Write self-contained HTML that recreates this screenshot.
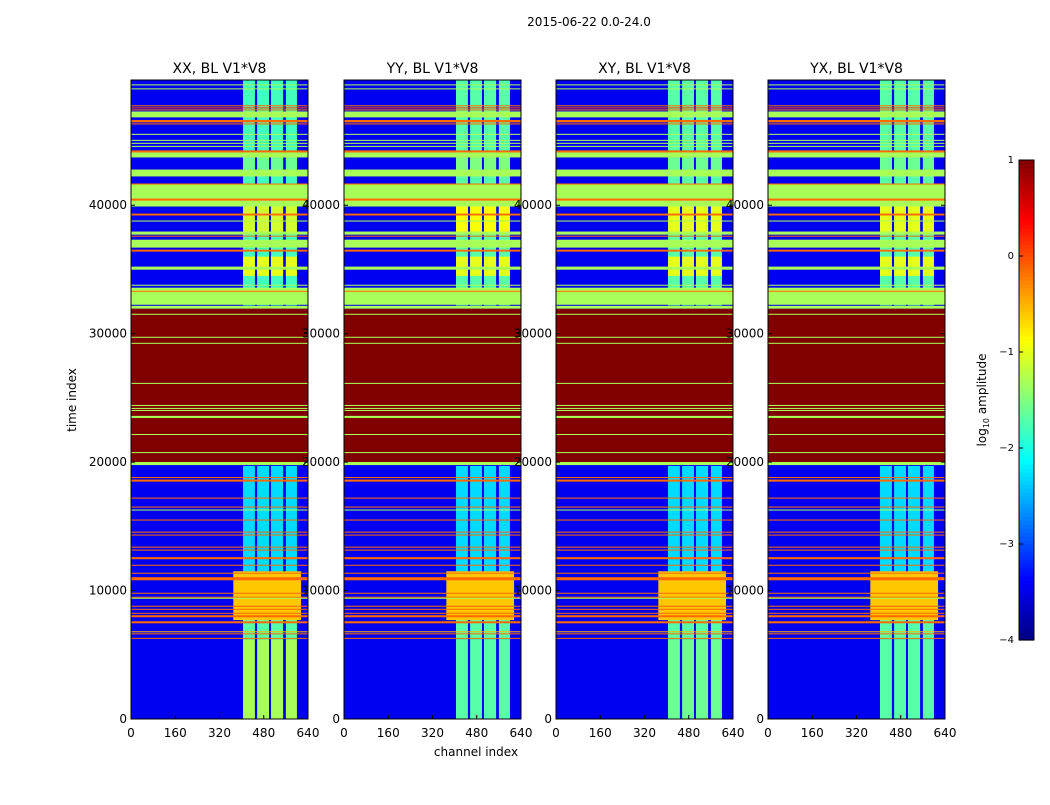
<!DOCTYPE html>
<html><head><meta charset="utf-8">
<style>
body{margin:0;background:#fff;width:1050px;height:800px;overflow:hidden;font-family:"Liberation Sans","DejaVu Sans",sans-serif}
svg text{font-family:"DejaVu Sans","Liberation Sans",sans-serif}
</style></head>
<body>
<svg id="fig" width="1050" height="800" xmlns="http://www.w3.org/2000/svg">
<text x="589" y="26" font-size="12" text-anchor="middle">2015-06-22 0.0-24.0</text>
<text x="76" y="400" font-size="12" text-anchor="middle" transform="rotate(-90 76 400)">time index</text>
<text x="476" y="756" font-size="12" text-anchor="middle">channel index</text>
<g id="panels"></g>
<g id="cbar"></g>
</svg>
<script>
const panelTitles = ["XX, BL V1*V8","YY, BL V1*V8","XY, BL V1*V8","YX, BL V1*V8"];
const panelX = [131,344,556,768];
const tMax = 49750, chMax = 640;
const xTicks = [0,160,320,480,640];
const yTicks = [0,10000,20000,30000,40000];
const bgLevel = -3.45;
// RFI channel columns
const rfiCh0 = [405,456,506,560];
const rfiCh1 = [448,499,550,600];
// RFI time zones and per-panel levels
const rfiT0 = [0,6200,11500,32200,34500,37900,42800];
const rfiT1 = [6200,11500,19700,49750,36000,40000,44000];
const rfiLevels = [
 [-1.3,-1.7,-1.6,-1.7],
 [-1.7,-1.7,-1.7,-1.7],
 [-2.3,-2.3,-2.3,-2.3],
 [-1.8,-1.7,-1.7,-1.7],
 [-1.0,-1.0,-1.0,-1.0],
 [-1.1,-0.9,-1.0,-1.0],
 [-1.6,-1.5,-1.6,-1.6]
];
// wide strong RFI blob
const blobT0 = [7700], blobT1 = [11500], blobCh0 = [370], blobCh1 = [615], blobLevel = [-0.6];
// full-width flagged bands
const bandT0 = [49330,49020,47700,47540,47380,46840,46450,46290,45480,45010,44780,44540,44110,43720,42240,39900,41610,40360,39200,38730,37710,37560,36700,36390,34980,33730,32250,33260,31940,20010,31470,29680,29210,26090,24370,24140,23980,23440,22110,20700,19770,18760,18480,17160,16460,16230,15450,14510,14280,13340,13110,12440,11930,11310,10800,9750,9440,9360,8740,8500,8190,7920,7450,6750,6590,6240];
const bandT1 = [49410,49100,47780,47620,47460,47300,46640,46370,45560,45090,44860,44620,44270,44110,42780,41690,41690,40520,39350,38810,37950,37630,37320,36540,35220,33810,33580,33340,32170,31940,31550,29760,29290,26170,24450,24220,24060,23600,22190,20780,20010,18840,18640,17240,16540,16310,15530,14590,14360,13420,13190,12600,12010,11390,11040,9830,9520,9440,8820,8580,8270,8080,7610,6830,6670,6320];
const bandLevel = [-1.3,-1.3,-0.15,0.1,-0.15,-1.3,-0.15,-0.15,-1.3,-1.3,-1.3,-1.3,-0.15,-1.3,-1.3,-1.3,-0.15,-0.15,-0.15,-1.3,-1.3,-0.15,-1.3,-0.15,-1.3,-1.3,-1.3,-0.15,-1.3,1,-1.3,-1.3,-1.3,-1.3,-1.3,-1.3,-1.3,-1.3,-1.3,-1.3,-1.3,-0.15,-0.15,-0.15,-0.15,-1.3,-0.15,-0.15,-0.15,-0.15,-0.15,-0.15,-0.15,-0.15,-0.15,-0.15,-0.15,-1.3,-0.15,-0.15,-0.15,-0.15,-0.15,-0.5,-0.15,-0.15];
const cbTicks = [1,0,-1,-2,-3,-4];
const cbLabels = ["1","0","\u22121","\u22122","\u22123","\u22124"];

const NS="http://www.w3.org/2000/svg";
const PW=177, PT=80, PB=719;
function jet(v){
  let n=Math.max(0,Math.min(1,(v+4)/5));
  const c=x=>Math.round(255*Math.max(0,Math.min(1,1.5-Math.abs(x))));
  return `rgb(${c(4*n-3)},${c(4*n-2)},${c(4*n-1)})`;
}
function el(tag,attrs,parent){const e=document.createElementNS(NS,tag);for(const k in attrs)e.setAttribute(k,attrs[k]);parent.appendChild(e);return e;}
const yS=t=>PB-(t/tMax)*(PB-PT);
const xS=(px,ch)=>px+(ch/chMax)*PW;
const root=document.getElementById('panels');
panelX.forEach((px,p)=>{
  const g=el('g',{},root);
  
  
  const bg=el('rect',{x:px,y:PT,width:PW,height:PB-PT,fill:jet(bgLevel)},g);
  
  
  rfiT0.forEach((t0,z)=>{
    rfiCh0.forEach((c0,k)=>{
      const r=el('rect',{x:xS(px,c0),y:yS(rfiT1[z]),width:xS(px,rfiCh1[k])-xS(px,c0),height:yS(t0)-yS(rfiT1[z]),fill:jet(rfiLevels[z][p])},g);
      
      
    });
  });
  blobT0.forEach((t0,i)=>{
    const r=el('rect',{x:xS(px,blobCh0[i]),y:yS(blobT1[i]),width:xS(px,blobCh1[i])-xS(px,blobCh0[i]),height:yS(t0)-yS(blobT1[i]),fill:jet(blobLevel[i])},g);
    
    
  });
  bandT0.forEach((t0,i)=>{
    const y0=yS(bandT1[i]),y1=yS(t0);
    const r=el('rect',{x:px,y:y0,width:PW,height:Math.max(1,y1-y0),fill:jet(bandLevel[i])},g);
    
    
  });
  const fr=el('rect',{x:px,y:PT,width:PW,height:PB-PT,fill:'none',stroke:'#000','stroke-width':1},g);
  
  
  const tt=el('text',{x:px+PW/2,y:73,'font-size':14,'text-anchor':'middle'},g);
  tt.textContent=panelTitles[p];
  
  
  xTicks.forEach(v=>{
    const x=xS(px,v);
    el('line',{x1:x,x2:x,y1:PB,y2:PB-4,stroke:'#000'},g);
    const t=el('text',{x:x,y:737,'font-size':12,'text-anchor':'middle'},g);
    t.textContent=v;
    
    
  });
  yTicks.forEach(v=>{
    const y=yS(v);
    el('line',{x1:px,x2:px+4,y1:y,y2:y,stroke:'#000'},g);
    el('line',{x1:px+PW,x2:px+PW-4,y1:y,y2:y,stroke:'#000'},g);
    const t=el('text',{x:px-4,y:y+4,'font-size':12,'text-anchor':'end'},g);
    t.textContent=v;
    
    
  });
});
// colorbar
const cb=document.getElementById('cbar');
const CX=1019,CW=15,CT=160,CB=640;
for(let i=0;i<120;i++){
  const v=-4+5*i/120;
  const y=CB-(i+1)*(CB-CT)/120;
  el('rect',{x:CX,y:y,width:CW,height:(CB-CT)/120+0.6,fill:jet(v+5/240)},cb);
}
el('rect',{x:CX,y:CT,width:CW,height:CB-CT,fill:'none',stroke:'#000'},cb);
cbTicks.forEach((v,i)=>{
  const y=CB-(v+4)/5*(CB-CT);
  el('line',{x1:CX,x2:CX+4,y1:y,y2:y,stroke:'#000'},cb);
  const t=el('text',{x:CX-5,y:y+3,'font-size':10,'text-anchor':'end'},cb);
  t.textContent=cbLabels[i];
  
  
});
const cl=el('text',{x:986,y:400,'font-size':12,'text-anchor':'middle',transform:'rotate(-90 986 400)'},cb);
cl.innerHTML='log<tspan font-size="8" dy="3">10</tspan><tspan dy="-3"> amplitude</tspan>';


</script>
</body></html>
